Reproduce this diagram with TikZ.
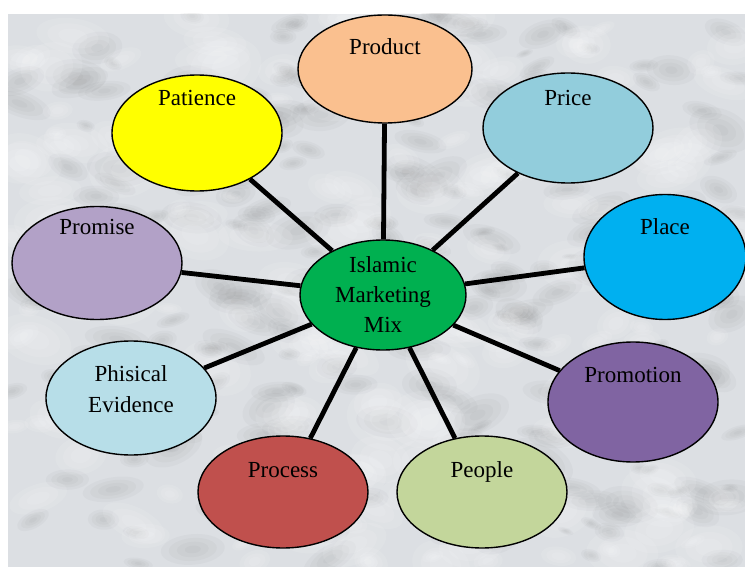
\documentclass[tikz,border=0pt]{standalone}
\usepackage{fontspec}
\setmainfont{Liberation Serif}
\usetikzlibrary{shapes.geometric}
\definecolor{marble}{HTML}{DCDFE3}
\definecolor{productc}{HTML}{FAC08F}
\definecolor{pricec}{HTML}{92CDDC}
\definecolor{placec}{HTML}{00B0F0}
\definecolor{promotionc}{HTML}{8064A2}
\definecolor{peoplec}{HTML}{C3D69B}
\definecolor{processc}{HTML}{C0504D}
\definecolor{evidencec}{HTML}{B7DEE8}
\definecolor{promisec}{HTML}{B2A1C7}
\definecolor{patiencec}{HTML}{FFFF00}
\definecolor{hubc}{HTML}{00B050}
\begin{document}
\begin{tikzpicture}[x=1pt,y=-1pt,
    bubble/.style={ellipse,draw=black,line width=1.4pt,minimum width=170pt,minimum height=112pt,inner sep=0pt},
    tag/.style={anchor=base,inner sep=0pt,font=\fontsize{23}{30}\selectfont},
    spoke/.style={line width=4.8pt}]
    \useasboundingbox (0,0) rectangle (745,567);
    % marble backdrop
    \fill [marble] (8,14) rectangle (745,567);
    \begin{scope}
        \clip (8,14) rectangle (745,567);
        \pgfmathsetseed{31}
        \foreach \k in {1,...,260} {
            \pgfmathsetmacro\mx{8+737*rnd}
            \pgfmathsetmacro\my{14+553*rnd}
            \pgfmathsetmacro\ma{-30+60*rnd}
            \pgfmathsetmacro\ml{8+26*rnd}
            \pgfmathsetmacro\mh{(0.35+0.3*rnd)*\ml}
            \foreach \f in {1,0.75,0.5,0.25}
                \fill [black!60,opacity=0.045,shift={(\mx,\my)},rotate=\ma] (0,0) ellipse [x radius=\f*\ml, y radius=\f*\mh];
        }
        \foreach \k in {1,...,200} {
            \pgfmathsetmacro\mx{8+737*rnd}
            \pgfmathsetmacro\my{14+553*rnd}
            \pgfmathsetmacro\ma{-30+60*rnd}
            \pgfmathsetmacro\ml{10+30*rnd}
            \pgfmathsetmacro\mh{(0.4+0.4*rnd)*\ml}
            \foreach \f in {1,0.7,0.4}
                \fill [white,opacity=0.1,shift={(\mx,\my)},rotate=\ma] (0,0) ellipse [x radius=\f*\ml, y radius=\f*\mh];
        }
    \end{scope}
    % the mix
    \node [bubble,fill=hubc,minimum width=166pt,minimum height=110pt,align=center,font=\fontsize{23}{30}\selectfont] (hub) at (383,295) {Islamic\\Marketing\\Mix};
    \node [bubble,fill=productc,minimum width=174pt,minimum height=108pt] (product) at (385,69) {};
    \node [bubble,fill=pricec,minimum height=110pt] (price) at (568,128) {};
    \node [bubble,fill=placec,minimum width=162pt,minimum height=125pt] (place) at (665,257) {};
    \node [bubble,fill=promotionc,minimum height=120pt] (promotion) at (633,402) {};
    \node [bubble,fill=peoplec] (people) at (482,492) {};
    \node [bubble,fill=processc] (process) at (283,492) {};
    \node [bubble,fill=evidencec,minimum height=114pt] (evidence) at (131,398) {};
    \node [bubble,fill=promisec,minimum height=113pt] (promise) at (97,263) {};
    \node [bubble,fill=patiencec,minimum height=116pt] (patience) at (197,133) {};
    \node [tag] (productlbl) at ([yshift=14pt]product.center) {Product};
    \node [tag] (pricelbl) at ([yshift=22pt]price.center) {Price};
    \node [tag] (placelbl) at ([yshift=22pt]place.center) {Place};
    \node [tag] (promotionlbl) at ([yshift=20pt]promotion.center) {Promotion};
    \node [tag] (peoplelbl) at ([yshift=15pt]people.center) {People};
    \node [tag] (processlbl) at ([yshift=15pt]process.center) {Process};
    \node [tag,anchor=center,align=center] (evidencelbl) at ([yshift=9pt]evidence.center) {Phisical\\[1pt]Evidence};
    \node [tag] (promiselbl) at ([yshift=29pt]promise.center) {Promise};
    \node [tag] (patiencelbl) at ([yshift=27pt]patience.center) {Patience};
    \foreach \n in {product,price,place,promotion,people,process,evidence,promise,patience}
        \draw [spoke] (hub) -- (\n);
\end{tikzpicture}
\end{document}
